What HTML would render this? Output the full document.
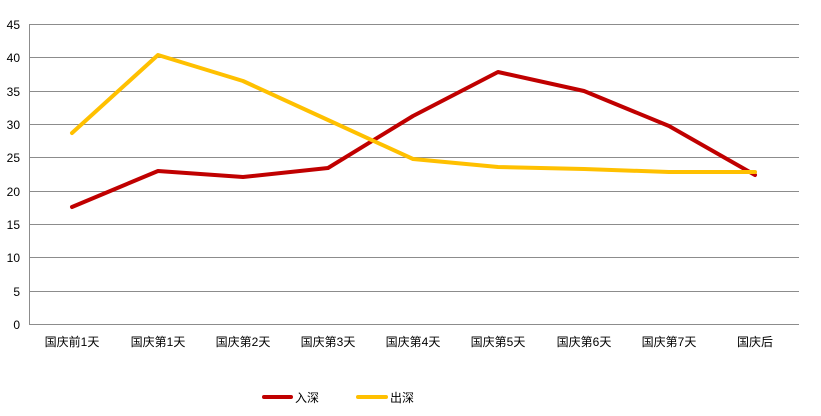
<!DOCTYPE html>
<html><head><meta charset="utf-8"><style>
html,body{margin:0;padding:0;background:#fff;}
svg{display:block;}
text{font-family:"Liberation Sans","Noto Sans CJK SC",sans-serif;font-size:12px;fill:#000;}
</style></head><body>
<svg width="821" height="416" viewBox="0 0 821 416">
<g stroke="#8c8c8c" stroke-width="1">
<line x1="30" y1="24.5" x2="799" y2="24.5"/>
<line x1="30" y1="57.5" x2="799" y2="57.5"/>
<line x1="30" y1="91.5" x2="799" y2="91.5"/>
<line x1="30" y1="124.5" x2="799" y2="124.5"/>
<line x1="30" y1="157.5" x2="799" y2="157.5"/>
<line x1="30" y1="191.5" x2="799" y2="191.5"/>
<line x1="30" y1="224.5" x2="799" y2="224.5"/>
<line x1="30" y1="257.5" x2="799" y2="257.5"/>
<line x1="30" y1="291.5" x2="799" y2="291.5"/>
<line x1="30" y1="324.5" x2="799" y2="324.5"/>
<line x1="29.5" y1="24" x2="29.5" y2="325"/>
</g>
<g text-anchor="end">
<text x="20" y="29">45</text><text x="20" y="62">40</text><text x="20" y="96">35</text>
<text x="20" y="129">30</text><text x="20" y="162">25</text><text x="20" y="196">20</text>
<text x="20" y="229">15</text><text x="20" y="262">10</text><text x="20" y="296">5</text>
<text x="20" y="329">0</text>
</g>
<g text-anchor="middle">
<text x="72" y="346">国庆前1天</text><text x="158" y="346">国庆第1天</text><text x="243" y="346">国庆第2天</text>
<text x="328" y="346">国庆第3天</text><text x="413" y="346">国庆第4天</text><text x="498" y="346">国庆第5天</text>
<text x="584" y="346">国庆第6天</text><text x="669" y="346">国庆第7天</text><text x="755" y="346">国庆后</text>
</g>
<polyline fill="none" stroke="#c00000" stroke-width="4" stroke-linejoin="round" stroke-linecap="round"
 points="72,207 158,171 243,177 328,168 413,116 498,72 584,91 669,126 755,175"/>
<polyline fill="none" stroke="#ffc000" stroke-width="4" stroke-linejoin="round" stroke-linecap="round"
 points="72,133 158,55 243,81 328,120 413,159 498,167 584,169 669,172 755,172"/>
<line x1="264" y1="397" x2="291" y2="397" stroke="#c00000" stroke-width="4" stroke-linecap="round"/>
<text x="295" y="402">入深</text>
<line x1="358" y1="397" x2="386" y2="397" stroke="#ffc000" stroke-width="4" stroke-linecap="round"/>
<text x="390" y="402">出深</text>
</svg>
</body></html>
